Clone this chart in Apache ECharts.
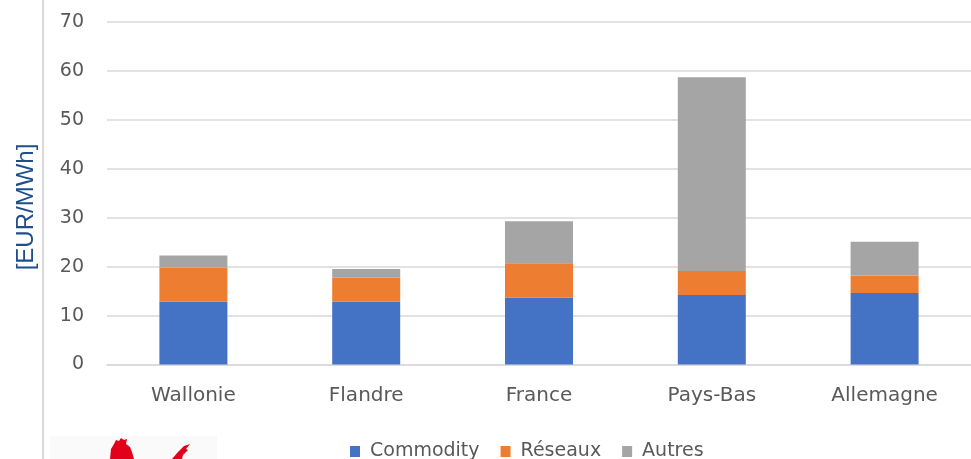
<!DOCTYPE html>
<html><head><meta charset="utf-8">
<script src="https://cdn.jsdelivr.net/npm/echarts@6/dist/echarts.min.js"></script>
<style>html,body{margin:0;padding:0;background:#fff}#c{width:971px;height:459px}</style>
</head><body><div id="c"></div>
<script>
var categories = ['Wallonie', 'Flandre', 'France', 'Pays-Bas', 'Allemagne'];
var commodity = [12.9, 12.9, 13.7, 14.2, 14.6];
var reseaux = [6.9, 4.9, 7.0, 4.9, 3.6];
var autres = [2.5, 1.7, 8.6, 39.6, 6.9];
var seriesNames = ['Commodity', 'Réseaux', 'Autres'];
var colors = ['#4472C4', '#ED7D31', '#A5A5A5'];
var yTicks = [0, 10, 20, 30, 40, 50, 60, 70];
var axisTitle = '[EUR/MWh]';

var chart = echarts.init(document.getElementById('c'));
var font = 'DejaVu Sans';
function bar(name, data, color) {
  return { name: name, type: 'bar', stack: 'total', data: data, barWidth: 68,
    itemStyle: { color: color }, emphasis: { disabled: true } };
}
chart.setOption({
  animation: false,
  color: colors,
  grid: { left: 107, width: 868, top: 22, height: 342.5 },
  legend: {
    top: 437, left: 345, itemWidth: 10, itemHeight: 11, itemGap: 21,
    icon: 'rect',
    textStyle: { fontFamily: font, fontSize: 19, color: '#595959', padding: [0, 0, 0, 5] },
    data: seriesNames
  },
  xAxis: {
    type: 'category', data: categories,
    axisLine: { lineStyle: { color: '#d9d9d9', width: 1.5 } },
    axisTick: { show: false },
    axisLabel: { fontFamily: font, fontSize: 20, color: '#595959', margin: 21 }
  },
  yAxis: {
    type: 'value', min: yTicks[0], max: yTicks[yTicks.length - 1], interval: 10,
    axisLine: { show: false }, axisTick: { show: false },
    splitLine: { lineStyle: { color: '#d9d9d9', width: 1.5 } },
    axisLabel: { fontFamily: font, fontSize: 19, color: '#595959', margin: 23 }
  },
  graphic: [
    { type: 'rect', shape: { x: 42, y: 0, width: 2, height: 459 }, style: { fill: '#d9d9d9' }, silent: true },
    { type: 'text', x: 26, y: 207, rotation: Math.PI / 2,
      style: { text: axisTitle, fontFamily: 'Liberation Sans', fontSize: 24, fill: '#1F4E8A', align: 'center', verticalAlign: 'middle' } },
    { type: 'rect', shape: { x: 50, y: 436, width: 167, height: 23 }, style: { fill: '#fafafa' }, silent: true },
    { type: 'polygon', shape: { points: [[110,459],[111,449],[114,444],[116,440],[119,441],[121,438],[124,440],[127,439],[126,444],[130,447],[132,452],[134,459]] }, style: { fill: '#E2001A' }, silent: true },
    { type: 'polygon', shape: { points: [[172,459],[178,452],[184,446],[190,444],[186,449],[188,450],[183,455],[182,459]] }, style: { fill: '#E2001A' }, silent: true }
  ],
  series: [
    bar(seriesNames[0], commodity, colors[0]),
    bar(seriesNames[1], reseaux, colors[1]),
    bar(seriesNames[2], autres, colors[2])
  ]
});
</script></body></html>
